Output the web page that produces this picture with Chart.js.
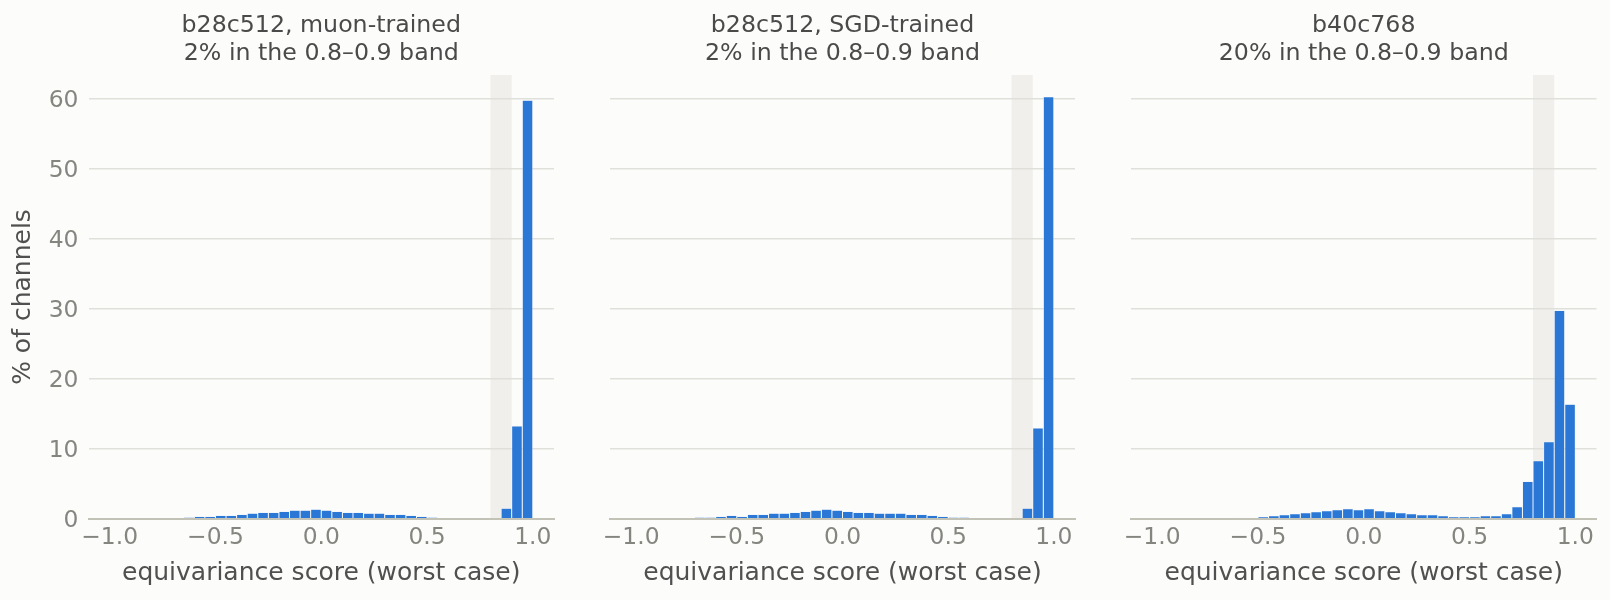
<!DOCTYPE html>
<html>
<head>
<meta charset="utf-8">
<script src="https://cdn.jsdelivr.net/npm/chart.js@4/dist/chart.umd.min.js"></script>
<style>
  html, body { margin: 0; padding: 0; background: #fcfcfa; }
  #wrap { position: relative; width: 1610px; height: 600px; background: #fcfcfa; }
  canvas { position: absolute; top: 0; }
</style>
</head>
<body>
<div id="wrap">
  <canvas id="c1" width="570" height="600" style="left:0px"></canvas>
  <canvas id="c2" width="522" height="600" style="left:570px"></canvas>
  <canvas id="c3" width="518" height="600" style="left:1092px"></canvas>
</div>
<script>
// ---- data ----
const binCenters = [-0.975,-0.925,-0.875,-0.825,-0.775,-0.725,-0.675,-0.625,-0.575,-0.525,
  -0.475,-0.425,-0.375,-0.325,-0.275,-0.225,-0.175,-0.125,-0.075,-0.025,
  0.025,0.075,0.125,0.175,0.225,0.275,0.325,0.375,0.425,0.475,
  0.525,0.575,0.625,0.675,0.725,0.775,0.825,0.875,0.925,0.975];

const muonValues = [0,0,0,0,0,0.1,0.1,0.24,0.38,0.38,
  0.53,0.53,0.67,0.82,0.96,0.96,1.1,1.25,1.25,1.4,
  1.25,1.1,0.96,0.96,0.82,0.82,0.67,0.67,0.53,0.38,
  0.24,0.1,0.1,0,0,0,0,1.55,13.3,59.8];

const sgdValues = [0,0,0,0,0,0.1,0.24,0.24,0.38,0.53,
  0.38,0.67,0.67,0.82,0.82,0.96,1.1,1.25,1.4,1.25,
  1.1,0.96,0.96,0.82,0.82,0.82,0.67,0.67,0.53,0.38,
  0.24,0.24,0.1,0.1,0,0,0,1.55,13.0,60.3];

const b40Values = [0,0,0,0,0,0,0,0.1,0.19,0.19,
  0.33,0.48,0.62,0.76,0.9,1.05,1.19,1.33,1.48,1.33,
  1.48,1.19,1.05,0.9,0.76,0.62,0.62,0.48,0.33,0.33,
  0.33,0.48,0.48,0.76,1.76,5.38,8.33,11.05,29.8,16.4];

const panelTitles = [
  ["b28c512, muon-trained", "2% in the 0.8\u20130.9 band"],
  ["b28c512, SGD-trained", "2% in the 0.8\u20130.9 band"],
  ["b40c768", "20% in the 0.8\u20130.9 band"]
];
const band = [0.8, 0.9];
const xTickValues = [-1.0, -0.5, 0.0, 0.5, 1.0];
const yTickValues = [0, 10, 20, 30, 40, 50, 60];
const xLabel = "equivariance score (worst case)";
const yLabel = "% of channels";

// ---- styling ----
Chart.defaults.font.family = "'DejaVu Sans', sans-serif";
const BAR = '#2a77d6';
const EDGE = '#eef3fa';
const GRID = '#e0e0da';
const TICK = '#858580';
const TEXT = '#4a4a4a';

const bandPlugin = {
  id: 'band',
  beforeDraw(chart) {
    const x = chart.scales.x, a = chart.chartArea, ctx = chart.ctx;
    const x0 = x.getPixelForValue(band[0]), x1 = x.getPixelForValue(band[1]);
    ctx.save();
    ctx.fillStyle = '#f0efeb';
    ctx.fillRect(x0, a.top, x1 - x0, a.bottom - a.top);
    ctx.restore();
  }
};

function fmtX(v) {
  return (v < 0 ? '\u2212' : '') + Math.abs(v).toFixed(1);
}

function makePanel(id, values, title, yWidth, padRight, showY) {
  new Chart(document.getElementById(id), {
    type: 'bar',
    data: {
      datasets: [{
        data: binCenters.map((c, i) => ({ x: c, y: values[i] })),
        backgroundColor: BAR,
        borderColor: EDGE,
        borderWidth: { top: 0.6, left: 0.5, right: 0.5, bottom: 0 },
        borderSkipped: 'bottom',
        inflateAmount: 0,
        barPercentage: 1.0,
        categoryPercentage: 1.0
      }]
    },
    options: {
      responsive: false,
      animation: false,
      events: [],
      layout: { padding: { left: 0, right: padRight, top: 0, bottom: 0 } },
      plugins: {
        legend: { display: false },
        tooltip: { enabled: false },
        title: {
          display: true,
          fullSize: false,
          text: title,
          color: TEXT,
          font: { size: 23.7, weight: 'normal', lineHeight: 28 / 23.7 },
          padding: { top: 12, bottom: 7 }
        }
      },
      scales: {
        x: {
          type: 'linear',
          min: -1.1,
          max: 1.1,
          offset: false,
          afterBuildTicks: s => { s.ticks = xTickValues.map(v => ({ value: v })); },
          afterFit: s => { s.height = 81; },
          ticks: {
            callback: v => fmtX(v),
            color: TICK,
            font: { size: 23.4 },
            padding: 5,
            maxRotation: 0,
            autoSkip: false
          },
          grid: { display: false, drawTicks: false },
          border: { display: true, color: '#c2c2b6', width: 2, z: 1 },
          title: {
            display: true,
            text: xLabel,
            color: '#505050',
            font: { size: 25 },
            padding: { top: 0, bottom: 12 }
          }
        },
        y: {
          min: 0,
          max: 63.4,
          afterBuildTicks: s => { s.ticks = yTickValues.map(v => ({ value: v })); },
          afterFit: s => { s.width = yWidth; },
          ticks: {
            display: showY,
            color: TICK,
            font: { size: 23.4 },
            padding: 10,
            labelOffset: 2,
            callback: v => String(v)
          },
          grid: { color: GRID, lineWidth: 1.5, drawTicks: false },
          border: { display: false },
          title: {
            display: showY,
            text: yLabel,
            color: '#505050',
            font: { size: 25 },
            padding: { top: 8.5, bottom: 0 }
          }
        }
      }
    },
    plugins: [bandPlugin]
  });
}

makePanel('c1', muonValues, panelTitles[0], 88.5, 16, true);
makePanel('c2', sgdValues, panelTitles[1], 40, 17, false);
makePanel('c3', b40Values, panelTitles[2], 39, 13.5, false);
</script>
</body>
</html>
